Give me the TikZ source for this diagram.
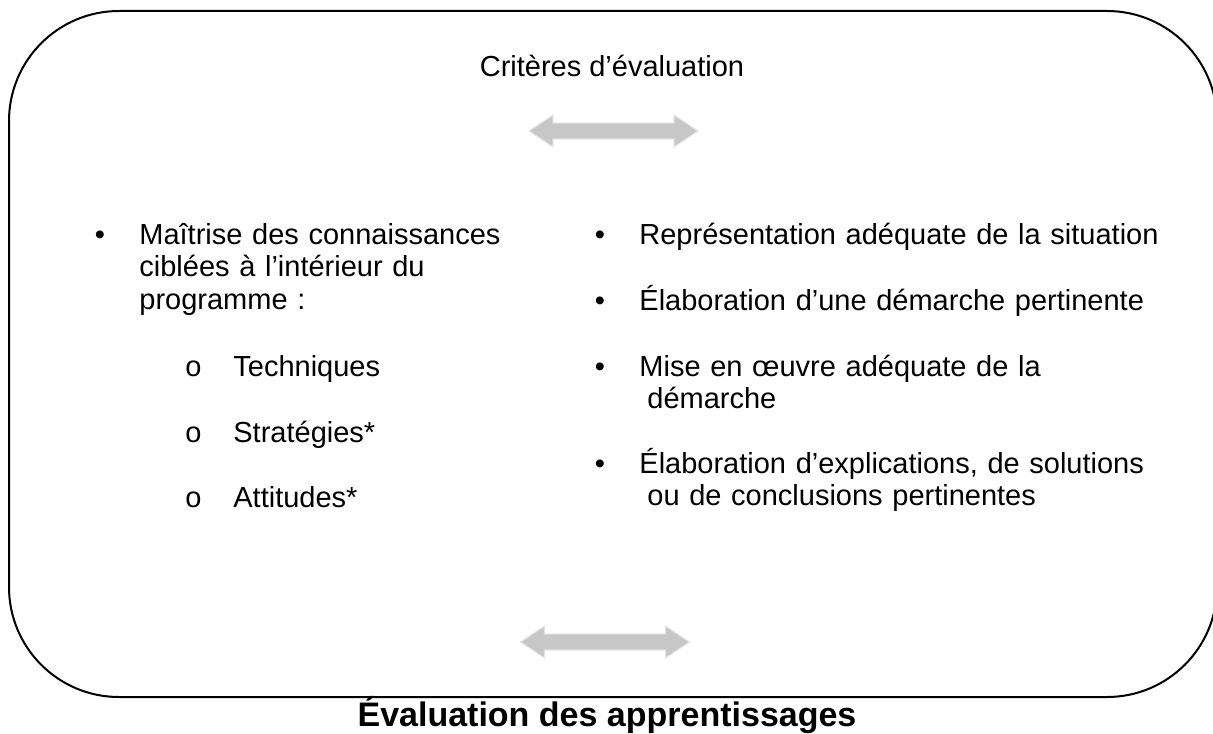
\documentclass[tikz,border=0pt]{standalone}
\usepackage{fontspec}
\setmainfont{Liberation Sans}
\newcommand\critfont{\fontsize{14.5}{16.3}\selectfont}
\newcommand\bilanfont{\fontsize{17}{20}\selectfont\bfseries}

\begin{document}
\begin{tikzpicture}[x=0.5pt, y=-0.5pt,
  every node/.style={inner sep=0pt, font=\critfont},
  item/.style={anchor=base west, align=left, text width=270pt},
  puce/.style={anchor=base},
  fleche/.style={fill=black!22, draw=black!10, line width=0.6pt, line join=miter}]
  \useasboundingbox (0,0) rectangle (1213,733);

  % cadre arrondi
  \draw[line width=1pt, rounded corners=55pt] (9,11) rectangle (1217,697);

  \node[anchor=base] (criteres) at (612,76) {Critères d’évaluation};

  % fleches doubles
  \foreach \cx/\cy in {613.5/131, 605/642}
    \filldraw[fleche] (\cx-84.5,\cy) -- ++(24,-16) -- ++(0,8) -- ++(121,0)
      -- ++(0,-8) -- ++(24,16) -- ++(-24,16) -- ++(0,-8) -- ++(-121,0)
      -- ++(0,8) -- cycle;

  % colonne de gauche
  \node[puce] (p1) at (100,244) {•};
  \node[item] (maitrise) at (139,244) {Maîtrise des connaissances\\
    ciblées à l’intérieur du\\ programme :};
  \node[puce] (s1) at (193.5,376) {o};
  \node[item] (techniques) at (233,376) {Techniques};
  \node[puce] (s2) at (193.5,442) {o};
  \node[item] (strategies) at (233,442) {Stratégies*};
  \node[puce] (s3) at (193.5,507) {o};
  \node[item] (attitudes) at (233,507) {Attitudes*};

  % colonne de droite
  \node[puce] (q1) at (600,244) {•};
  \node[item] (representation) at (639,244) {Représentation adéquate de la situation};
  \node[puce] (q2) at (600,310) {•};
  \node[item] (demarche) at (639,310) {Élaboration d’une démarche pertinente};
  \node[puce] (q3) at (600,376) {•};
  \node[item] (oeuvre) at (639,376) {Mise en œuvre adéquate de la\\
    \hspace*{4pt}démarche};
  \node[puce] (q4) at (600,473) {•};
  \node[item] (explications) at (639,473) {Élaboration d’explications, de solutions\\
    \hspace*{4pt}ou de conclusions pertinentes};

  \node[font=\bilanfont, anchor=base] (bilan) at (607,726) {Évaluation des apprentissages};
\end{tikzpicture}
\end{document}
